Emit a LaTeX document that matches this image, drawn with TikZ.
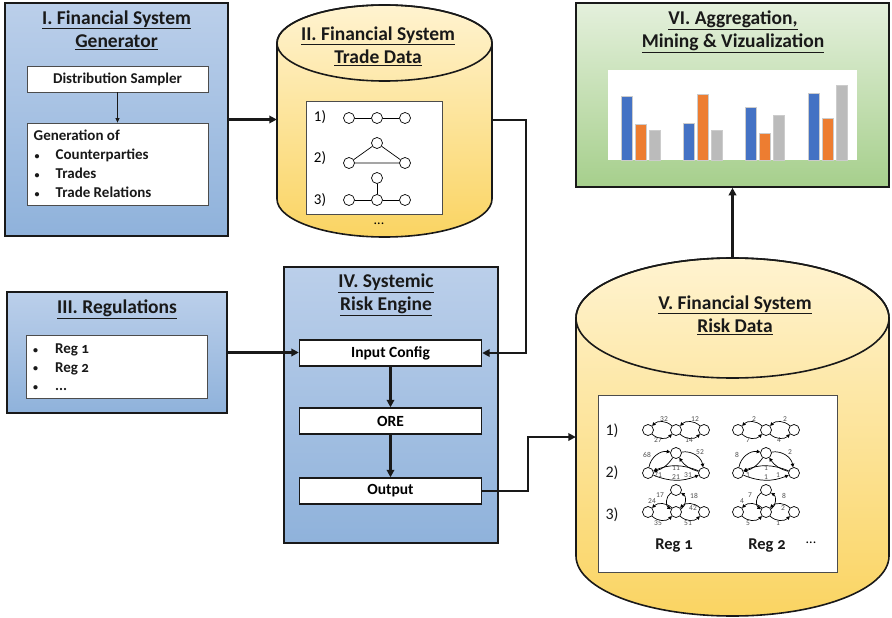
\documentclass[tikz,border=0pt]{standalone}
\usepackage{fontspec}
\setmainfont{Carlito}
\usetikzlibrary{arrows.meta,calc}
\definecolor{bluetop}{RGB}{187,207,234}
\definecolor{bluebot}{RGB}{143,178,219}
\definecolor{yeltop}{RGB}{255,243,208}
\definecolor{yelbot}{RGB}{250,212,98}
\definecolor{grntop}{RGB}{228,240,220}
\definecolor{grnbot}{RGB}{166,207,140}
\definecolor{barblue}{RGB}{68,114,196}
\definecolor{barorange}{RGB}{237,125,49}
\definecolor{bargrey}{RGB}{187,187,187}
\definecolor{edgegrey}{RGB}{80,80,80}
\definecolor{linecol}{RGB}{25,25,25}
\newcommand\smallbul{\raisebox{0.5pt}{\fontsize{10}{10}\selectfont\textbullet}}
\tikzset{
 panel/.style={draw=linecol, line width=1.6pt, inner sep=0pt, rectangle},
 bluepanel/.style={panel, top color=bluetop, bottom color=bluebot},
 greenpanel/.style={panel, top color=grntop, bottom color=grnbot},
 whitebox/.style={draw=black!70, line width=0.8pt, fill=white, inner sep=0pt},
 stagebox/.style={draw=linecol, line width=1.4pt, fill=white, inner sep=0pt, minimum width=182pt, minimum height=26pt, font=\bfseries\fontsize{15.5}{18}\selectfont},
 titletext/.style={font=\bfseries\fontsize{19.5}{23.5}\selectfont, align=center, inner sep=0pt, text=linecol},
 listtext/.style={font=\bfseries\fontsize{15}{19}\selectfont, align=left, inner sep=0pt, text=linecol},
 flow/.style={draw=linecol, line width=2.2pt, -{Triangle[length=7.5pt,width=7.5pt]}},
 thinflow/.style={draw=linecol, line width=0.8pt, -{Triangle[length=4.5pt,width=4pt]}},
 gnode/.style={circle, draw=black, line width=0.7pt, fill=white, minimum size=11pt, inner sep=0pt},
 gedge/.style={line width=0.7pt},
 darc/.style={line width=0.7pt, -{Triangle[length=3.5pt,width=3.5pt]}},
 elab/.style={font=\fontsize{7.5}{8}\selectfont, text=edgegrey, inner sep=0pt},
 numlab/.style={font=\fontsize{16}{18}\selectfont, inner sep=0pt, text=linecol},
 cylfill/.style={top color=yeltop, bottom color=yelbot, draw=linecol, line width=1.6pt},
 bar/.style={draw=white!80!black, line width=0.4pt},
}
% directed graph rows
\newcommand\rowOne[6]{%
 \begin{scope}[shift={(#1,0)}]
  \node[gnode] (#2a) at (648,430) {};
  \node[gnode] (#2b) at (676,430) {};
  \node[gnode] (#2c) at (704,430) {};
  \draw[darc] (#2b) to[bend right=45] (#2a);
  \draw[darc] (#2a) to[bend right=45] (#2b);
  \draw[darc] (#2c) to[bend right=45] (#2b);
  \draw[darc] (#2b) to[bend right=45] (#2c);
  \node[elab] (#2l1) at (664,419) {#3};
  \node[elab] (#2l2) at (695,419) {#4};
  \node[elab] (#2l3) at (658,440) {#5};
  \node[elab] (#2l4) at (689,440) {#6};
 \end{scope}}
\newcommand\rowTwo[8]{%
 \begin{scope}[shift={(#1,0)}]
  \node[gnode] (#2t) at (676,453) {};
  \node[gnode] (#2l) at (648,473) {};
  \node[gnode] (#2r) at (704,473) {};
  \draw[darc] (#2l) to[bend left=45] (#2t);
  \draw[darc] (#2t) to[bend left=45] (#2r);
  \draw[darc] (#2r) to[bend left=20] (#2t);
  \draw[darc] (#2t) to[bend left=20] (#2l);
  \draw[darc] (#2r) to[bend right=22] (#2l);
  \draw[darc] (#2l) to[bend right=22] (#2r);
  \node[elab] (#2m1) at (647,455) {#3};
  \node[elab] (#2m2) at (700,452) {#4};
  \node[elab] (#2m3) at (676,468.5) {#5};
  \node[elab] (#2m4) at (676,477) {#6};
  \node[elab] (#2m5) at (658,475.5) {#7};
  \node[elab] (#2m6) at (688,475.5) {#8};
 \end{scope}}
\newcommand\rowThree[8]{%
 \begin{scope}[shift={(#1,0)}]
  \node[gnode] (#2t) at (676,490) {};
  \node[gnode] (#2l) at (648,512) {};
  \node[gnode] (#2m) at (676,512) {};
  \node[gnode] (#2r) at (704,512) {};
  \draw[darc] (#2m) to[bend right=45] (#2l);
  \draw[darc] (#2l) to[bend right=45] (#2m);
  \draw[darc] (#2r) to[bend right=45] (#2m);
  \draw[darc] (#2m) to[bend right=45] (#2r);
  \draw[darc] (#2t) to[bend right=60] (#2m);
  \draw[darc] (#2m) to[bend right=60] (#2t);
  \node[elab] (#2k1) at (660,495) {#3};
  \node[elab] (#2k2) at (694,496) {#4};
  \node[elab] (#2k3) at (652,501) {#5};
  \node[elab] (#2k4) at (693,508) {#6};
  \node[elab] (#2k5) at (658,523) {#7};
  \node[elab] (#2k6) at (688,523) {#8};
 \end{scope}}
\begin{document}
\begin{tikzpicture}[x=1pt,y=-1pt]
\useasboundingbox (0,0) rectangle (892,618);

% ---------- I. Generator ----------
\node[bluepanel, minimum width=223pt, minimum height=233pt] (gen) at (116.5,119.5) {};
\node[titletext] (gentitle) at (116.5,30) {\underline{I. Financial System}\\\underline{Generator}};
\node[whitebox, minimum width=181pt, minimum height=26pt, font=\bfseries\fontsize{15}{17}\selectfont, text=linecol] (ds) at (117.5,79) {Distribution Sampler};
\node[whitebox, minimum width=181pt, minimum height=82pt] (genbox) at (117.5,164) {};
\node[listtext, anchor=north west] (gentext) at (33.5,130) {Generation of\\
\hspace*{1pt}\makebox[21pt][l]{\smallbul}Counterparties\\
\hspace*{1pt}\makebox[21pt][l]{\smallbul}Trades\\
\hspace*{1pt}\makebox[21pt][l]{\smallbul}Trade Relations};
\draw[thinflow] (ds.south) -- (genbox.north);

% ---------- II. Trade data cylinder ----------
\draw[cylfill] (277,43) -- (277,199) arc[start angle=180, end angle=360, x radius=107.5pt, y radius=38pt]
  -- (492,43) arc[start angle=0, end angle=180, x radius=107.5pt, y radius=38pt] -- cycle;
\draw[draw=linecol, line width=1.6pt] (384.5,43) ellipse[x radius=107.5pt, y radius=38pt];
\node[minimum width=215pt, minimum height=232pt, inner sep=0pt] (trade) at (384.5,120) {};
\node[titletext] (tradetitle) at (378,46) {\underline{II. Financial System}\\\underline{Trade Data}};
\node[whitebox, minimum width=136pt, minimum height=113pt] (tradebox) at (374,157.5) {};
\node[font=\fontsize{15}{17}\selectfont, inner sep=0pt] (t1) at (320,117) {1)};
\node[font=\fontsize{15}{17}\selectfont, inner sep=0pt] (t2) at (320,158) {2)};
\node[font=\fontsize{15}{17}\selectfont, inner sep=0pt] (t3) at (320,200) {3)};
\node[gnode] (ua1) at (349,118) {};
\node[gnode] (ua2) at (377,118) {};
\node[gnode] (ua3) at (405,118) {};
\draw[gedge] (ua1) -- (ua2) (ua2) -- (ua3);
\node[gnode] (ub1) at (377,143) {};
\node[gnode] (ub2) at (349,163) {};
\node[gnode] (ub3) at (405,163) {};
\draw[gedge] (ub1) -- (ub2) (ub1) -- (ub3) (ub2) -- (ub3);
\node[gnode] (uc1) at (377,178) {};
\node[gnode] (uc2) at (349,200) {};
\node[gnode] (uc3) at (377,200) {};
\node[gnode] (uc4) at (405,200) {};
\draw[gedge] (uc1) -- (uc3) (uc2) -- (uc3) (uc3) -- (uc4);
\node[font=\fontsize{14}{16}\selectfont, inner sep=0pt] (tdots) at (379,224) {...};

% ---------- VI. Aggregation ----------
\node[greenpanel, minimum width=313pt, minimum height=184pt] (agg) at (732.5,95) {};
\node[titletext] (aggtitle) at (733,32) {\underline{VI. Aggregation,}\\\underline{Mining \& Vizualization}};
\node[fill=white, inner sep=0pt, minimum width=249pt, minimum height=90pt] (chart) at (732.5,115) {};
\foreach \x/\hb/\ho/\hg in {621/96/124/130, 683/123/94/130, 745/107/133/115, 808/93/118/85}{
  \fill[barblue, bar] (\x,160) rectangle ++(11,\hb-160);
  \fill[barorange, bar] (\x+14,160) rectangle ++(11,\ho-160);
  \fill[bargrey, bar] (\x+28,160) rectangle ++(11,\hg-160);
}

% ---------- III. Regulations ----------
\node[bluepanel, minimum width=220pt, minimum height=121pt] (reg) at (117,352.5) {};
\node[titletext] (regtitle) at (117,309) {\underline{III. Regulations}};
\node[whitebox, minimum width=181pt, minimum height=63pt] (regbox) at (116.5,366.5) {};
\node[listtext, anchor=north west, font=\bfseries\fontsize{15}{18.5}\selectfont\addfontfeature{Numbers=OldStyle}] (regtext) at (33,344) {%
\makebox[22pt][l]{\smallbul}Reg 1\\
\makebox[22pt][l]{\smallbul}Reg 2\\
\makebox[22pt][l]{\smallbul}...};

% ---------- IV. Engine ----------
\node[bluepanel, minimum width=214pt, minimum height=276pt] (engine) at (391,405) {};
\node[titletext] (enginetitle) at (386,295) {\underline{IV. Systemic}\\\underline{Risk Engine}};
\node[stagebox] (input) at (390.5,353) {Input Config};
\node[stagebox] (ore) at (390.5,421) {ORE};
\node[stagebox] (output) at (390.5,491) {Output};
\draw[flow] (input.south) -- (ore.north);
\draw[flow] (ore.south) -- (output.north);

% ---------- V. Risk data cylinder ----------
\draw[cylfill] (576,318) -- (576,556) arc[start angle=180, end angle=360, x radius=156.5pt, y radius=60pt]
  -- (889,318) arc[start angle=0, end angle=180, x radius=156.5pt, y radius=60pt] -- cycle;
\draw[draw=linecol, line width=1.6pt] (732.5,318) ellipse[x radius=156.5pt, y radius=60pt];
\node[minimum width=313pt, minimum height=358pt, inner sep=0pt] (risk) at (732.5,437) {};
\node[titletext] (risktitle) at (735,315) {\underline{V. Financial System}\\\underline{Risk Data}};
\node[whitebox, minimum width=239pt, minimum height=177pt] (riskbox) at (717.5,483.5) {};
\node[numlab] (r1) at (612,431) {1)};
\node[numlab] (r2) at (612,473) {2)};
\node[numlab] (r3) at (612,515) {3)};
\rowOne{0}{pa}{32}{12}{27}{14}
\rowOne{90}{qa}{2}{2}{7}{4}
\rowTwo{0}{pb}{68}{52}{11}{21}{71}{31}
\rowTwo{90}{qb}{8}{2}{1}{1}{1}{1}
\rowThree{0}{pc}{17}{18}{24}{42}{35}{51}
\rowThree{90}{qc}{7}{8}{4}{2}{5}{1}
\node[font=\bfseries\fontsize{16.5}{18}\selectfont\addfontfeature{Numbers=OldStyle}, inner sep=0pt, text=linecol] (reg1) at (674,546) {Reg 1};
\node[font=\bfseries\fontsize{16.5}{18}\selectfont\addfontfeature{Numbers=OldStyle}, inner sep=0pt, text=linecol] (reg2) at (767,546) {Reg 2};
\node[font=\fontsize{14}{16}\selectfont, inner sep=0pt] (rdots) at (811,543) {...};

% ---------- connectors ----------
\draw[flow] (gen.east) -- (gen.east -| trade.west);
\draw[flow] (reg.east) -- (reg.east -| input.west);
\draw[flow] (trade.east) -- ++(34,0) |- (input.east);
\draw[flow] (output.east) -- ++(46,0) |- (risk.west);
\draw[flow] (risk.north) -- (agg.south);
\end{tikzpicture}
\end{document}
